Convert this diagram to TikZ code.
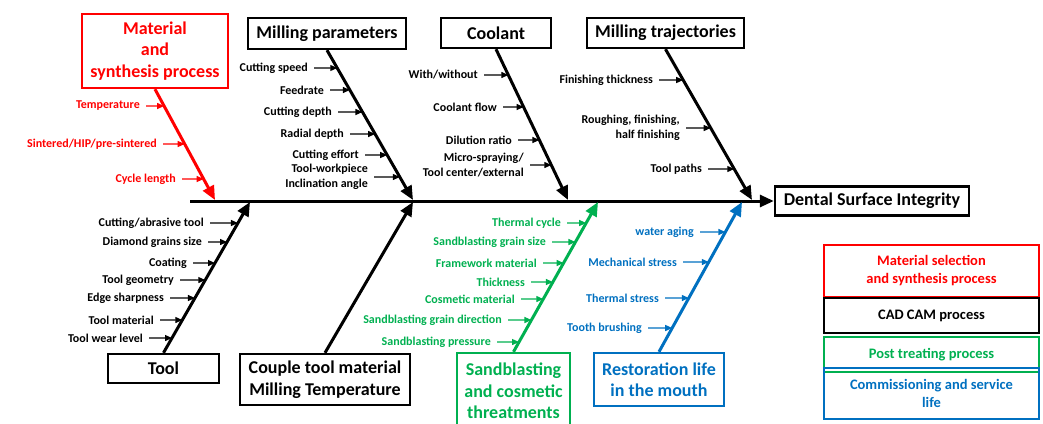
\documentclass[tikz,border=0pt]{standalone}
\usepackage{fontspec}
\setmainfont{Carlito}
\usetikzlibrary{arrows.meta,positioning}
\definecolor{causered}{RGB}{255,0,0}
\definecolor{causegreen}{RGB}{0,176,80}
\definecolor{causeblue}{RGB}{0,112,192}

\begin{document}
\begin{tikzpicture}[x=1pt,y=-1pt,font=\bfseries]
        \tikzstyle{cause}=[draw,line width=2.4pt,inner sep=0pt,align=center,font=\fontsize{18}{21.5}\bfseries\selectfont]
        \tikzstyle{key}=[draw,line width=2.2pt,inner sep=0pt,align=center,minimum width=215pt,font=\fontsize{14.5}{18}\bfseries\selectfont]
        \tikzstyle{bone}=[line width=3pt,-{Triangle[length=14pt,width=12pt]}]
        \tikzstyle{sub}=[line width=1.2pt,shorten <=6pt,-{Triangle[length=7pt,width=6pt]}]
        \tikzstyle{lbl}=[anchor=east,inner sep=0pt,align=right,font=\fontsize{12}{14.5}\bfseries\selectfont]

        \useasboundingbox (0,0) rectangle (1043,423);

        % boxes of the causes
        \node[cause,causered,minimum width=146pt,minimum height=74pt]   (mat)    at (155,51)    {Material\\and\\synthesis process};
        \node[cause,minimum width=158pt,minimum height=31pt]            (mill)   at (327,33.5)  {Milling parameters};
        \node[cause,minimum width=110pt,minimum height=30pt]            (cool)   at (496,33)    {Coolant};
        \node[cause,minimum width=157pt,minimum height=30pt]            (traj)   at (665.5,33)  {Milling trajectories};
        \node[cause,minimum width=111pt,minimum height=29pt]            (tool)   at (163.5,368.5) {Tool};
        \node[cause,minimum width=170pt,minimum height=51pt]            (couple) at (325,379.5) {Couple tool material\\Milling Temperature};
        \node[cause,causegreen,minimum width=113pt,minimum height=76pt] (sand)   at (513.5,391) {Sandblasting\\and cosmetic\\threatments};
        \node[cause,causeblue,minimum width=130pt,minimum height=53pt]  (rest)   at (659,379.5) {Restoration life\\in the mouth};
        \node[cause,minimum width=194pt,minimum height=29pt]            (dsi)    at (872,201)   {Dental Surface Integrity};

        % spine and bones
        \coordinate (tail)       at (190,201);
        \coordinate (mattip)     at (215,200);
        \coordinate (milltip)    at (413,200);
        \coordinate (cooltip)    at (568,200);
        \coordinate (trajtip)    at (752,200);
        \coordinate (tooltip)    at (250,202);
        \coordinate (coupletip)  at (413,202);
        \coordinate (sandtip)    at (598,202);
        \coordinate (resttip)    at (742,202);

        \draw[bone] (tail) -- (dsi.west);
        \draw[bone,causered]   (mat.south)   -- (mattip);
        \draw[bone]            (mill.south)  -- (milltip);
        \draw[bone]            (cool.south)  -- (cooltip);
        \draw[bone]            (traj.south)  -- (trajtip);
        \draw[bone]            (tool.north)  -- (tooltip);
        \draw[bone]            (couple.north) -- (coupletip);
        \draw[bone,causegreen] (sand.north)  -- (sandtip);
        \draw[bone,causeblue]  (rest.north)  -- (resttip);

        % material and synthesis
        \node[lbl,causered] (r1) at (140,106) {Temperature};
        \node[lbl,causered] (r2) at (157,144) {Sintered/HIP/pre-sintered};
        \node[lbl,causered] (r3) at (176,179) {Cycle length};
        \coordinate (r1b) at (intersection of mat.south--mattip and r1.east--r1.west);
        \coordinate (r2b) at (intersection of mat.south--mattip and r2.east--r2.west);
        \coordinate (r3b) at (intersection of mat.south--mattip and r3.east--r3.west);
        \path[sub,causered] (r1) edge (r1b) (r2) edge (r2b) (r3) edge (r3b);

        % milling parameters
        \node[lbl] (m1) at (308,68)  {Cutting speed};
        \node[lbl] (m2) at (324,90)  {Feedrate};
        \node[lbl] (m3) at (332,112) {Cutting depth};
        \node[lbl] (m4) at (344,134) {Radial depth};
        \node[lbl] (m5) at (359,155) {Cutting effort};
        \node[lbl] (m6) at (368,177) {Tool-workpiece\\Inclination angle};
        \coordinate (m1b) at (intersection of mill.south--milltip and m1.east--m1.west);
        \coordinate (m2b) at (intersection of mill.south--milltip and m2.east--m2.west);
        \coordinate (m3b) at (intersection of mill.south--milltip and m3.east--m3.west);
        \coordinate (m4b) at (intersection of mill.south--milltip and m4.east--m4.west);
        \coordinate (m5b) at (intersection of mill.south--milltip and m5.east--m5.west);
        \coordinate (m6b) at (intersection of mill.south--milltip and m6.east--m6.west);
        \path[sub] (m1) edge (m1b) (m2) edge (m2b) (m3) edge (m3b)
                   (m4) edge (m4b) (m5) edge (m5b) (m6) edge (m6b);

        % coolant
        \node[lbl] (c1) at (478,75)  {With/without};
        \node[lbl] (c2) at (497,107) {Coolant flow};
        \node[lbl] (c3) at (512,140) {Dilution ratio};
        \node[lbl] (c4) at (524,165) {Micro-spraying/\\Tool center/external};
        \coordinate (c1b) at (intersection of cool.south--cooltip and c1.east--c1.west);
        \coordinate (c2b) at (intersection of cool.south--cooltip and c2.east--c2.west);
        \coordinate (c3b) at (intersection of cool.south--cooltip and c3.east--c3.west);
        \coordinate (c4b) at (intersection of cool.south--cooltip and c4.east--c4.west);
        \path[sub] (c1) edge (c1b) (c2) edge (c2b) (c3) edge (c3b) (c4) edge (c4b);

        % milling trajectories
        \node[lbl] (t1) at (653,80)  {Finishing thickness};
        \node[lbl] (t2) at (680,128) {Roughing, finishing,\\half finishing};
        \node[lbl] (t3) at (702,169) {Tool paths};
        \coordinate (t1b) at (intersection of traj.south--trajtip and t1.east--t1.west);
        \coordinate (t2b) at (intersection of traj.south--trajtip and t2.east--t2.west);
        \coordinate (t3b) at (intersection of traj.south--trajtip and t3.east--t3.west);
        \path[sub] (t1) edge (t1b) (t2) edge (t2b) (t3) edge (t3b);

        % tool
        \node[lbl] (o1) at (204,223) {Cutting/abrasive tool};
        \node[lbl] (o2) at (202,242) {Diamond grains size};
        \node[lbl] (o3) at (187,263) {Coating};
        \node[lbl] (o4) at (174,280) {Tool geometry};
        \node[lbl] (o5) at (164,298) {Edge sharpness};
        \node[lbl] (o6) at (154,320) {Tool material};
        \node[lbl] (o7) at (143,338) {Tool wear level};
        \coordinate (o1b) at (intersection of tool.north--tooltip and o1.east--o1.west);
        \coordinate (o2b) at (intersection of tool.north--tooltip and o2.east--o2.west);
        \coordinate (o3b) at (intersection of tool.north--tooltip and o3.east--o3.west);
        \coordinate (o4b) at (intersection of tool.north--tooltip and o4.east--o4.west);
        \coordinate (o5b) at (intersection of tool.north--tooltip and o5.east--o5.west);
        \coordinate (o6b) at (intersection of tool.north--tooltip and o6.east--o6.west);
        \coordinate (o7b) at (intersection of tool.north--tooltip and o7.east--o7.west);
        \path[sub] (o1) edge (o1b) (o2) edge (o2b) (o3) edge (o3b) (o4) edge (o4b)
                   (o5) edge (o5b) (o6) edge (o6b) (o7) edge (o7b);

        % sandblasting and cosmetic
        \node[lbl,causegreen] (s1) at (561,223) {Thermal cycle};
        \node[lbl,causegreen] (s2) at (546,242) {Sandblasting grain size};
        \node[lbl,causegreen] (s3) at (537,263) {Framework material};
        \node[lbl,causegreen] (s4) at (525,282) {Thickness};
        \node[lbl,causegreen] (s5) at (515,299) {Cosmetic material};
        \node[lbl,causegreen] (s6) at (502,320) {Sandblasting grain direction};
        \node[lbl,causegreen] (s7) at (491,342) {Sandblasting pressure};
        \coordinate (s1b) at (intersection of sand.north--sandtip and s1.east--s1.west);
        \coordinate (s2b) at (intersection of sand.north--sandtip and s2.east--s2.west);
        \coordinate (s3b) at (intersection of sand.north--sandtip and s3.east--s3.west);
        \coordinate (s4b) at (intersection of sand.north--sandtip and s4.east--s4.west);
        \coordinate (s5b) at (intersection of sand.north--sandtip and s5.east--s5.west);
        \coordinate (s6b) at (intersection of sand.north--sandtip and s6.east--s6.west);
        \coordinate (s7b) at (intersection of sand.north--sandtip and s7.east--s7.west);
        \path[sub,causegreen] (s1) edge (s1b) (s2) edge (s2b) (s3) edge (s3b) (s4) edge (s4b)
                              (s5) edge (s5b) (s6) edge (s6b) (s7) edge (s7b);

        % restoration life
        \node[lbl,causeblue] (b1) at (694,232) {water aging};
        \node[lbl,causeblue] (b2) at (677,262) {Mechanical stress};
        \node[lbl,causeblue] (b3) at (659,298) {Thermal stress};
        \node[lbl,causeblue] (b4) at (642,328) {Tooth brushing};
        \coordinate (b1b) at (intersection of rest.north--resttip and b1.east--b1.west);
        \coordinate (b2b) at (intersection of rest.north--resttip and b2.east--b2.west);
        \coordinate (b3b) at (intersection of rest.north--resttip and b3.east--b3.west);
        \coordinate (b4b) at (intersection of rest.north--resttip and b4.east--b4.west);
        \path[sub,causeblue] (b1) edge (b1b) (b2) edge (b2b) (b3) edge (b3b) (b4) edge (b4b);

        % key
        \node[key,causered,minimum height=52pt]   (kred)   at (931.5,271)   {Material selection\\and synthesis process};
        \node[key,minimum height=35pt]            (kblack) at (931.5,315.5) {CAD CAM process};
        \node[key,causegreen,minimum height=35pt] (kgreen) at (931.5,354.5) {Post treating process};
        \node[key,causeblue,minimum height=51pt]  (kblue)  at (931.5,393.5) {Commissioning and service\\life};
\end{tikzpicture}
\end{document}
